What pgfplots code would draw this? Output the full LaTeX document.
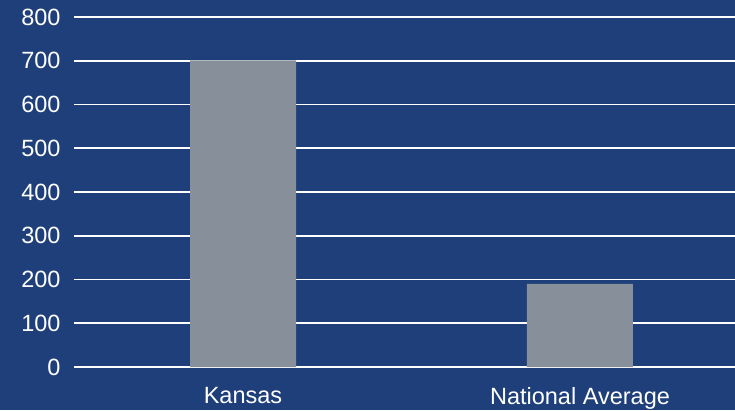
\documentclass[border=0pt]{standalone}
\usepackage{pgfplots}
\pgfplotsset{compat=1.18}
\usepackage{fontspec}
\setmainfont{Liberation Sans}
\definecolor{bgblue}{HTML}{1F3F7A}
\definecolor{bargray}{HTML}{878F9B}
\begin{document}
\begin{tikzpicture}[x=1pt,y=1pt]
\useasboundingbox (0,0) rectangle (735,410);
\fill[bgblue] (0,0) rectangle (735,410);
\begin{axis}[
  at={(74pt,43pt)}, anchor=south west,
  scale only axis, width=661pt, height=350pt,
  xmin=-0.5015, xmax=1.46,
  ymin=0, ymax=800,
  ytick={0,100,...,800},
  xtick=data,
  xticklabels={Kansas,National Average},
  axis line style={draw=none},
  major tick length=0pt,
  ymajorgrids,
  grid style={white, line width=1.6pt},
  tick label style={white, font=\fontsize{23.5}{27}\selectfont},
  /pgf/number format/assume math mode=true,
  yticklabel style={xshift=-10pt},
  xticklabel style={yshift=-17pt},
  axis on top=false,
]
\addplot[ybar, bar width=106pt, fill=bargray, draw=none] coordinates {(0,701) (1,190)};
\end{axis}
\end{tikzpicture}
\end{document}
